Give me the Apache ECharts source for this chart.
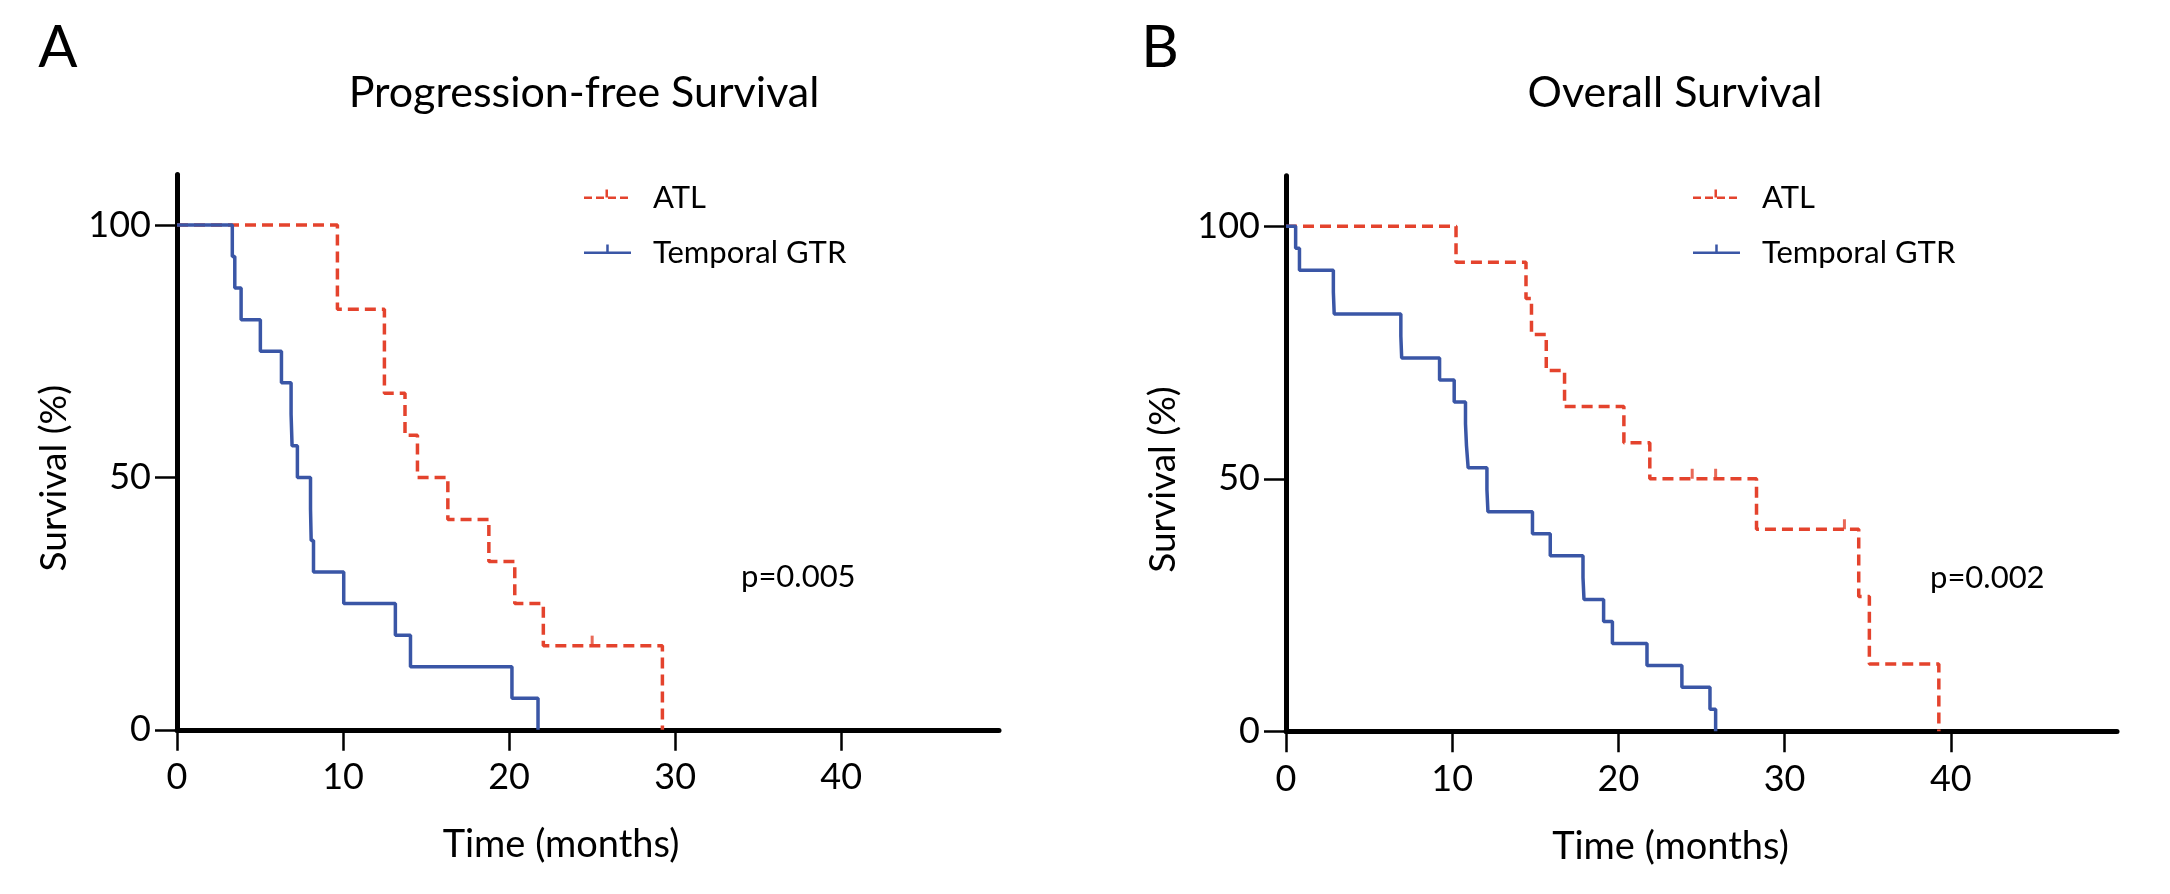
<!DOCTYPE html>
<html>
<head>
<meta charset="utf-8">
<script src="https://cdn.jsdelivr.net/npm/echarts@6/dist/echarts.min.js"></script>
<style>
html,body{margin:0;padding:0;background:#fff;}
#chart{width:2170px;height:894px;}
</style>
</head>
<body>
<div id="chart"></div>
<script>
// ---- Data ----
const xTicks = [0, 10, 20, 30, 40];
const yTicks = [0, 50, 100];
const groupNames = ['ATL', 'Temporal GTR'];
const panelTitles = ['Progression-free Survival', 'Overall Survival'];
const panelLetters = ['A', 'B'];
const pValues = ['p=0.005', 'p=0.002'];
const xAxisName = 'Time (months)';
const yAxisName = 'Survival (%)';

// Panel A: progression-free survival
const pfsAtlTime = [0, 9.66, 12.49, 13.73, 14.48, 16.31, 18.78, 20.34, 22.06, 29.23];
const pfsAtlSurv = [100, 83.33, 66.67, 58.33, 50, 41.67, 33.33, 25, 16.67, 0];
const pfsAtlCensorTime = [25.0];
const pfsAtlCensorSurv = [16.67];
const pfsGtrTime = [0, 3.33, 3.48, 3.86, 5.02, 6.29, 6.87, 6.93, 7.25, 8.04, 8.08, 8.22, 10.04, 13.15, 14.06, 20.17, 21.74];
const pfsGtrSurv = [100, 93.75, 87.5, 81.25, 75, 68.75, 62.5, 56.25, 50, 43.75, 37.5, 31.25, 25, 18.75, 12.5, 6.25, 0];

// Panel B: overall survival
const osAtlTime = [0, 10.23, 14.44, 14.77, 15.66, 16.76, 20.33, 21.89, 28.31, 34.46, 35.1, 39.28];
const osAtlSurv = [100, 92.86, 85.71, 78.57, 71.43, 64.29, 57.14, 50, 40, 26.67, 13.33, 0];
const osAtlCensorTime = [24.44, 25.85, 33.6];
const osAtlCensorSurv = [50, 50, 40];
const osGtrTime = [0, 0.58, 0.81, 2.85, 2.9, 6.91, 6.96, 9.24, 10.12, 10.8, 10.86, 10.96, 12.09, 12.15, 14.83, 15.9, 17.87, 17.93, 19.11, 19.64, 21.72, 23.82, 25.51, 25.85];
const osGtrSurv = [100, 95.65, 91.3, 86.96, 82.61, 78.26, 73.91, 69.57, 65.22, 60.87, 56.52, 52.17, 47.83, 43.48, 39.13, 34.78, 30.43, 26.09, 21.74, 17.39, 13.04, 8.7, 4.35, 0];

// ---- Styling ----
const RED = '#e4432d';
const BLUE = '#3a56a6';
const FONT = 'Lato';
const zip = (a, b) => a.map((v, i) => [v, b[i]]);

const atlIcon = 'path://M0,7h8v2.5h-8z M12,7h8v2.5h-8z M24,7h8v2.5h-8z M36,7h8v2.5h-8z M21.5,0h2.5v8h-2.5z M0,16h0.01v0.01h-0.01z M63.99,16h0.01v0.01h-0.01z';
const gtrIcon = 'path://M0,7h47v2.5h-47z M22.25,0h2.5v8h-2.5z M0,16h0.01v0.01h-0.01z M63.99,16h0.01v0.01h-0.01z';

function makeX(gridIndex, max, shift) {
  return {
    type: 'value', gridIndex, min: 0, max,
    name: xAxisName, nameLocation: 'middle', nameGap: 96,
    nameTextStyle: { fontFamily: FONT, fontSize: 38, color: '#000', padding: [0, shift, 0, 0] },
    axisLine: { show: true, onZero: false, lineStyle: { color: '#000', width: 5 } },
    axisTick: { show: true, length: 21, customValues: xTicks, lineStyle: { color: '#000', width: 2.5 } },
    axisLabel: { customValues: xTicks, margin: 30, fontFamily: FONT, fontSize: 36, color: '#000' },
    splitLine: { show: false }
  };
}
function makeY(gridIndex) {
  return {
    type: 'value', gridIndex, min: 0, max: 110,
    name: yAxisName, nameLocation: 'middle', nameGap: 104, nameRotate: 90,
    nameTextStyle: { fontFamily: FONT, fontSize: 37, color: '#000', padding: [0, 52, 0, 0] },
    axisLine: { show: true, onZero: false, lineStyle: { color: '#000', width: 5 } },
    axisTick: { show: true, length: 22, customValues: yTicks, lineStyle: { color: '#000', width: 2.5 } },
    axisLabel: { customValues: yTicks, margin: 26, fontFamily: FONT, fontSize: 36, color: '#000' },
    splitLine: { show: false }
  };
}
function kmLine(name, idx, t, s, color, dashed) {
  return {
    name, type: 'line', xAxisIndex: idx, yAxisIndex: idx, step: 'end', symbol: 'none',
    data: zip(t, s), clip: false, z: 3,
    lineStyle: { color, width: 3.5, type: dashed ? [11, 6] : 'solid' },
    itemStyle: { color }
  };
}
function censor(name, idx, t, s, color) {
  return {
    name, type: 'scatter', xAxisIndex: idx, yAxisIndex: idx, data: zip(t, s),
    symbol: 'rect', symbolSize: [3, 10], symbolOffset: [0, '-50%'], z: 4, silent: true,
    itemStyle: { color }
  };
}
function makeLegend(left) {
  return {
    left, top: 177, orient: 'vertical', itemWidth: 64, itemHeight: 16, itemGap: 24,
    selectedMode: false, itemStyle: { borderWidth: 0 },
    textStyle: { fontFamily: FONT, fontSize: 31, color: '#000', lineHeight: 31 },
    data: [
      { name: groupNames[0], icon: atlIcon, itemStyle: { color: RED, borderWidth: 0 } },
      { name: groupNames[1], icon: gtrIcon, itemStyle: { color: BLUE, borderWidth: 0 } }
    ]
  };
}
function txt(x, y, text, size, align) {
  return {
    type: 'text', x, y, silent: true,
    style: { text, fill: '#000', font: size + 'px ' + FONT, textAlign: align, align: align,
             textVerticalAlign: 'middle', verticalAlign: 'middle' }
  };
}

const chart = echarts.init(document.getElementById('chart'), null, { renderer: 'canvas' });
chart.setOption({
  animation: false,
  backgroundColor: '#fff',
  grid: [
    { left: 177, top: 174.5, width: 822, height: 555.3 },
    { left: 1286, top: 175.7, width: 831, height: 555.6 }
  ],
  xAxis: [makeX(0, 49.5, 54), makeX(1, 50, 62)],
  yAxis: [makeY(0), makeY(1)],
  legend: [makeLegend(579), makeLegend(1688)],
  series: [
    kmLine(groupNames[0], 0, pfsAtlTime, pfsAtlSurv, RED, true),
    kmLine(groupNames[1], 0, pfsGtrTime, pfsGtrSurv, BLUE, false),
    censor(groupNames[0], 0, pfsAtlCensorTime, pfsAtlCensorSurv, RED),
    kmLine(groupNames[0], 1, osAtlTime, osAtlSurv, RED, true),
    kmLine(groupNames[1], 1, osGtrTime, osGtrSurv, BLUE, false),
    censor(groupNames[0], 1, osAtlCensorTime, osAtlCensorSurv, RED)
  ],
  graphic: [
    txt(58, 48, panelLetters[0], 58, 'center'),
    txt(1160, 48, panelLetters[1], 58, 'center'),
    txt(584, 93, panelTitles[0], 43, 'center'),
    txt(1675, 93, panelTitles[1], 43, 'center'),
    txt(741, 577, pValues[0], 31, 'left'),
    txt(1930, 578, pValues[1], 31, 'left')
  ]
});
</script>
</body>
</html>
